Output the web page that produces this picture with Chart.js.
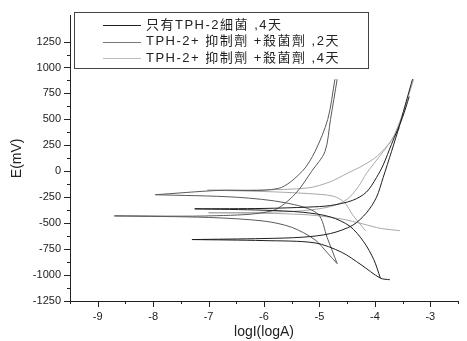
<!DOCTYPE html>
<html>
<head>
<meta charset="utf-8">
<script src="https://cdn.jsdelivr.net/npm/chart.js@4.4.1/dist/chart.umd.min.js"></script>
<style>
  html, body { margin: 0; padding: 0; background: #fff; }
  #wrap { width: 467px; height: 341px; }
</style>
</head>
<body>
<div id="wrap"><canvas id="tafelChart"></canvas></div>
<script>
// series names (legend)
var seriesNames = ['只有TPH-2細菌 ,4天', 'TPH-2+ 抑制劑 +殺菌劑 ,2天', 'TPH-2+ 抑制劑 +殺菌劑 ,4天'];

// each curve: cathodic end -> corrosion tip -> anodic end (logI, E in mV)
// black, bacteria only, 4 days (two sweeps)
var blackA_x = [-3.73, -3.9, -4.25, -4.6, -5.08, -6.0, -7.3, -6.0, -5.3, -4.8, -4.4, -4.15, -3.97, -3.85, -3.7, -3.55, -3.42, -3.32];
var blackA_y = [-1045, -1030, -900, -780, -690, -668, -658, -648, -635, -600, -520, -400, -250, -60, 190, 450, 700, 887];
var blackB_x = [-3.9, -4.02, -4.2, -4.45, -4.8, -5.3, -6.0, -7.25, -6.0, -5.2, -4.8, -4.4, -4.15, -3.97, -3.85, -3.7, -3.5, -3.38];
var blackB_y = [-1030, -850, -680, -530, -440, -395, -375, -362, -358, -345, -330, -280, -200, -60, 60, 260, 520, 720];

// gray, inhibitor + biocide, 2 days
var grayA_x = [-4.68, -4.86, -5.03, -5.6, -6.5, -7.96, -6.85, -5.74, -5.31, -5.08, -4.85, -4.72];
var grayA_y = [-890, -640, -410, -305, -250, -226, -185, -165, 0, 190, 500, 887];
var grayB_x = [-4.68, -4.85, -5.08, -5.5, -6.0, -7.0, -8.7, -6.85, -5.85, -5.44, -5.14, -4.9, -4.8, -4.68];
var grayB_y = [-890, -790, -660, -540, -480, -445, -430, -428, -380, -220, 0, 190, 500, 887];

// light gray, inhibitor + biocide, 4 days
var lightA_x = [-4.17, -4.25, -4.4, -4.55, -4.75, -5.2, -6.0, -7.02, -6.1, -5.2, -4.8, -4.5, -4.2, -3.95, -3.7, -3.55, -3.42, -3.3];
var lightA_y = [-572, -520, -420, -300, -240, -215, -195, -182, -180, -160, -100, -20, 60, 150, 300, 480, 680, 887];
var lightB_x = [-3.55, -3.9, -4.2, -4.6, -5.2, -6.0, -7.0, -6.0, -5.3, -4.8, -4.5, -4.3, -4.15, -3.95, -3.75, -3.55];
var lightB_y = [-572, -550, -510, -460, -420, -405, -400, -395, -380, -340, -270, -150, -20, 120, 260, 420];

// axis ticks
var xMin = -9.5, xMax = -2.5, xStep = 0.5;
var yMin = -1250, yMax = 1500, yStep = 125;

var colors = ['#1e1e1e', '#5a5a5a', '#a8a8a8'];
var legendColors = ['#222222', '#777777', '#bbbbbb'];

var curves = [
    { s: 0, x: blackA_x, y: blackA_y },
    { s: 0, x: blackB_x, y: blackB_y },
    { s: 1, x: grayA_x, y: grayA_y },
    { s: 1, x: grayB_x, y: grayB_y },
    { s: 2, x: lightA_x, y: lightA_y },
    { s: 2, x: lightB_x, y: lightB_y }
];

// split each curve at its tip (lowest logI) so both branches start sharp
var datasets = [];
curves.forEach(function (c) {
    var tip = c.x.indexOf(Math.min.apply(null, c.x));
    var cath = [], anod = [];
    for (var i = tip; i >= 0; i--) cath.push({ x: c.x[i], y: c.y[i] });
    for (var j = tip; j < c.x.length; j++) anod.push({ x: c.x[j], y: c.y[j] });
    [cath, anod].forEach(function (pts) {
        datasets.push({
            label: seriesNames[c.s],
            data: pts,
            showLine: true,
            borderColor: colors[c.s],
            backgroundColor: colors[c.s],
            borderWidth: 1,
            pointRadius: 0,
            tension: 0.3
        });
    });
});

// outward tick marks, long on labelled values, short on the others
var tickMarks = {
    id: 'tickMarks',
    afterDraw: function (chart) {
        var ctx = chart.ctx;
        var xs = chart.scales.x, ys = chart.scales.y;
        ctx.save();
        ctx.strokeStyle = '#222';
        ctx.lineWidth = 1;
        ys.ticks.forEach(function (t) {
            if (t.value > 1250) return;
            var py = Math.round(ys.getPixelForValue(t.value)) + 0.5;
            var len = (t.value % 250 === 0) ? 6 : 3;
            ctx.beginPath();
            ctx.moveTo(ys.right, py);
            ctx.lineTo(ys.right - len, py);
            ctx.stroke();
        });
        xs.ticks.forEach(function (t) {
            var px = Math.round(xs.getPixelForValue(t.value)) + 0.5;
            var len = (Math.abs(t.value % 1) < 1e-6) ? 6 : 3;
            ctx.beginPath();
            ctx.moveTo(px, xs.top);
            ctx.lineTo(px, xs.top + len);
            ctx.stroke();
        });
        ctx.restore();
    }
};

// boxed legend in the upper part of the plot
var boxLegend = {
    id: 'boxLegend',
    afterDraw: function (chart) {
        var ctx = chart.ctx;
        var left = 74, top = 12, right = 368, bottom = 68;
        ctx.save();
        ctx.fillStyle = '#fff';
        ctx.fillRect(left, top, right - left, bottom - top);
        ctx.strokeStyle = '#444';
        ctx.lineWidth = 1;
        ctx.strokeRect(left + 0.5, top + 0.5, right - left, bottom - top);
        ctx.font = '13px "Liberation Sans", "Noto Sans CJK TC", sans-serif';
        ctx.textBaseline = 'middle';
        ctx.fillStyle = '#222';
        if ('letterSpacing' in ctx) ctx.letterSpacing = '1.5px';
        seriesNames.forEach(function (name, i) {
            var y = 25 + i * 16.5;
            ctx.strokeStyle = legendColors[i];
            ctx.beginPath();
            ctx.moveTo(103, Math.round(y) + 0.5);
            ctx.lineTo(141, Math.round(y) + 0.5);
            ctx.stroke();
            ctx.fillText(name, 146, y);
        });
        ctx.restore();
    }
};

var tafelChart = new Chart(document.getElementById('tafelChart').getContext('2d'), {
    type: 'scatter',
    data: { datasets: datasets },
    plugins: [tickMarks, boxLegend],
    options: {
        responsive: true,
        maintainAspectRatio: false,
        animation: false,
        layout: { padding: { top: 11, right: 0, left: 0, bottom: 0 } },
        plugins: {
            legend: { display: false },
            tooltip: { enabled: false }
        },
        scales: {
            x: {
                type: 'linear',
                min: xMin, max: xMax,
                afterFit: function (scale) { scale.height = 40; },
                ticks: {
                    stepSize: xStep,
                    padding: 9,
                    color: '#222',
                    font: { family: '"Liberation Sans", Arial, sans-serif', size: 11 },
                    maxRotation: 0,
                    autoSkip: false,
                    callback: function (v) { return (Math.abs(v % 1) < 1e-6) ? String(v) : ''; }
                },
                grid: { display: true, drawOnChartArea: false, drawTicks: false },
                border: { display: true, color: '#222', width: 1 },
                title: {
                    display: true,
                    text: 'logI(logA)',
                    color: '#222',
                    font: { family: '"Liberation Sans", Arial, sans-serif', size: 14 },
                    padding: { top: 0, bottom: 0 }
                }
            },
            y: {
                type: 'linear',
                min: yMin, max: yMax,
                afterFit: function (scale) { scale.width = 70; },
                ticks: {
                    stepSize: yStep,
                    padding: 9,
                    color: '#222',
                    font: { family: '"Liberation Sans", Arial, sans-serif', size: 11 },
                    autoSkip: false,
                    callback: function (v) { return (v % 250 === 0 && v <= 1250) ? String(v) : ''; }
                },
                grid: { display: true, drawOnChartArea: false, drawTicks: false },
                border: { display: true, color: '#222', width: 1 },
                title: {
                    display: true,
                    text: 'E(mV)',
                    color: '#222',
                    font: { family: '"Liberation Sans", Arial, sans-serif', size: 14 },
                    padding: { top: 9, bottom: 0 }
                }
            }
        }
    }
});
</script>
</body>
</html>
